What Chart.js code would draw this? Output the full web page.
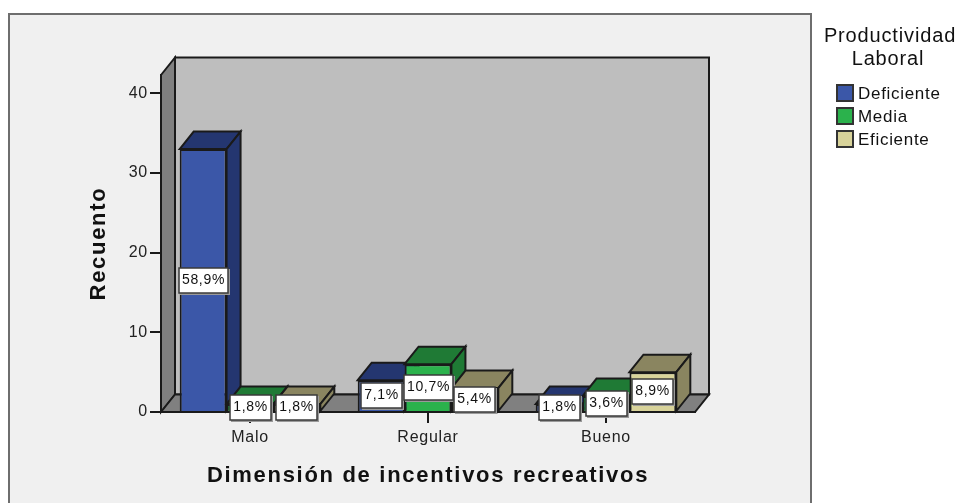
<!DOCTYPE html>
<html lang="es">
<head>
<meta charset="utf-8">
<title>Recuento por dimensión de incentivos recreativos</title>
<script src="https://cdn.jsdelivr.net/npm/chart.js@4/dist/chart.umd.min.js"></script>
<style>
  html, body { margin: 0; padding: 0; background: #ffffff; }
  canvas { display: block; }
</style>
</head>
<body>
<canvas id="chart" width="955" height="503"></canvas>
<script>
// Categories and counts per productivity level
const categories = ['Malo', 'Regular', 'Bueno'];
const deficiente = [33, 4, 1];
const media = [1, 6, 2];
const eficiente = [1, 3, 5];
const porcentajeDeficiente = ['58,9%', '7,1%', '1,8%'];
const porcentajeMedia = ['1,8%', '10,7%', '3,6%'];
const porcentajeEficiente = ['1,8%', '5,4%', '8,9%'];
const yTicks = [0, 10, 20, 30, 40];

const seriesNames = ['Deficiente', 'Media', 'Eficiente'];
const frontColors = ['#3b57a8', '#2bb24c', '#d8d39a'];
const darkColors = ['#243670', '#1f7a35', '#8a8560'];
const percentLabels = [porcentajeDeficiente, porcentajeMedia, porcentajeEficiente];

const FONT = '"Liberation Sans", Arial, sans-serif';
const DEPTH_X = 14, DEPTH_Y = 17.5;
const INK = '#1a1a1a';
const BASE_SPACING = '0.75px', TITLE_SPACING = '1.7px';

function poly(ctx, pts, fill) {
  ctx.beginPath();
  pts.forEach((p, i) => i ? ctx.lineTo(p[0], p[1]) : ctx.moveTo(p[0], p[1]));
  ctx.closePath();
  if (fill) { ctx.fillStyle = fill; ctx.fill(); }
  ctx.strokeStyle = INK;
  ctx.lineWidth = 2;
  ctx.lineJoin = 'miter';
  ctx.stroke();
}

function spacedText(ctx, text, x, y, font, spacing, align) {
  ctx.save();
  ctx.font = font;
  ctx.letterSpacing = spacing + 'px';
  ctx.textAlign = align || 'left';
  ctx.textBaseline = 'middle';
  ctx.fillStyle = '#111111';
  ctx.fillText(text, x, y);
  ctx.restore();
}

// Panel, frame and the three walls of the box behind the bars
const panelPlugin = {
  id: 'panel',
  beforeDraw(chart) {
    const { ctx, chartArea: a } = chart;
    ctx.letterSpacing = BASE_SPACING;
    // Axis titles are set wider than the tick labels
    Object.values(chart.scales).forEach(scale => {
      if (scale.spacedTitle) return;
      const drawTitle = scale.drawTitle;
      scale.spacedTitle = true;
      scale.drawTitle = function () {
        ctx.letterSpacing = TITLE_SPACING;
        drawTitle.call(this);
        ctx.letterSpacing = BASE_SPACING;
      };
    });
    ctx.save();
    ctx.fillStyle = '#f0f0f0';
    ctx.fillRect(9, 14, 802, 495);
    ctx.strokeStyle = '#6e6e6e';
    ctx.lineWidth = 2;
    ctx.strokeRect(9, 14, 802, 495);
    const b = a.bottom, t = a.top, l = a.left, r = a.right;
    poly(ctx, [[l + DEPTH_X, t - DEPTH_Y], [r + DEPTH_X, t - DEPTH_Y], [r + DEPTH_X, b - DEPTH_Y], [l + DEPTH_X, b - DEPTH_Y]], '#bebebe');
    poly(ctx, [[l, t], [l + DEPTH_X, t - DEPTH_Y], [l + DEPTH_X, b - DEPTH_Y], [l, b]], '#808080');
    poly(ctx, [[l, b], [l + DEPTH_X, b - DEPTH_Y], [r + DEPTH_X, b - DEPTH_Y], [r, b]], '#808080');
    ctx.restore();
  },
  // Bars are painted here, left to right, so that every side face falls behind its right-hand neighbour
  beforeDatasetsDraw(chart) {
    const { ctx } = chart;
    const metas = chart.data.datasets.map((_, i) => chart.getDatasetMeta(i));
    ctx.save();
    categories.forEach((_, c) => {
      metas.forEach((meta, d) => {
        const bar = meta.data[c];
        const { x, y, base, width } = bar.getProps(['x', 'y', 'base', 'width'], true);
        const l = x - width / 2, r = x + width / 2;
        poly(ctx, [[l, y], [l + DEPTH_X, y - DEPTH_Y], [r + DEPTH_X, y - DEPTH_Y], [r, y]], darkColors[d]);
        poly(ctx, [[r, y], [r + DEPTH_X, y - DEPTH_Y], [r + DEPTH_X, base - DEPTH_Y], [r, base]], darkColors[d]);
        bar.draw(ctx);
      });
    });
    ctx.restore();
    return false;
  },
  afterDraw(chart) {
    const { ctx } = chart;
    const metas = chart.data.datasets.map((_, i) => chart.getDatasetMeta(i));
    // Percentage boxes centred on the front of each bar
    categories.forEach((_, c) => {
      metas.forEach((meta, d) => {
        const { x, y, base } = meta.data[c].getProps(['x', 'y', 'base'], true);
        const text = percentLabels[d][c];
        const font = '14px ' + FONT;
        ctx.save();
        ctx.font = font;
        ctx.letterSpacing = '0.7px';
        const w = Math.round(ctx.measureText(text).width) + 6, h = 25;
        const bx = Math.round(x - w / 2), by = Math.round((y + base) / 2 - h / 2);
        ctx.fillStyle = '#9a9a9a';
        ctx.fillRect(bx + 1, by + 1, w + 1, h + 1);
        ctx.fillStyle = '#ffffff';
        ctx.strokeStyle = '#3a3a3a';
        ctx.lineWidth = 1.5;
        ctx.fillRect(bx, by, w, h);
        ctx.strokeRect(bx, by, w, h);
        ctx.restore();
        spacedText(ctx, text, bx + w / 2, by + h / 2, font, 0.7, 'center');
      });
    });
    // Legend block to the right of the frame
    spacedText(ctx, 'Productividad', 890, 36, '20px ' + FONT, 0.85, 'center');
    spacedText(ctx, 'Laboral', 888, 59, '20px ' + FONT, 0.85, 'center');
    seriesNames.forEach((name, i) => {
      const y = 93 + i * 23;
      ctx.save();
      ctx.fillStyle = frontColors[i];
      ctx.strokeStyle = '#333333';
      ctx.lineWidth = 2;
      ctx.fillRect(837, y - 8, 16, 16);
      ctx.strokeRect(837, y - 8, 16, 16);
      ctx.restore();
      spacedText(ctx, name, 858, y + 1, '17px ' + FONT, 0.7, 'left');
    });
  }
};

const datasets = seriesNames.map((name, i) => ({
  label: name,
  data: [deficiente, media, eficiente][i],
  backgroundColor: frontColors[i],
  borderColor: INK,
  borderWidth: 2,
  categoryPercentage: 0.79,
  barPercentage: 1
}));

new Chart(document.getElementById('chart'), {
  type: 'bar',
  data: { labels: categories, datasets },
  plugins: [panelPlugin],
  options: {
    responsive: false,
    animation: false,
    layout: { padding: { top: 75, right: 260, bottom: 0, left: 0 } },
    plugins: { legend: { display: false }, tooltip: { enabled: false } },
    scales: {
      x: {
        afterFit(scale) { scale.height = 91; },
        grid: { offset: false, drawOnChartArea: false, drawTicks: true, tickLength: 11, color: INK, lineWidth: 2 },
        border: { color: INK, width: 2 },
        ticks: { color: '#222222', font: { family: FONT, size: 16 }, padding: 5, maxRotation: 0 },
        title: {
          display: true, text: 'Dimensión de incentivos recreativos', color: '#111111',
          font: { family: FONT, size: 22, weight: 'bold' }, padding: { top: 0, bottom: 14 }
        }
      },
      y: {
        min: 0,
        max: 42.3,
        afterFit(scale) { scale.width = 161; },
        afterBuildTicks(scale) { scale.ticks = yTicks.map(value => ({ value })); },
        grid: { drawOnChartArea: false, drawTicks: true, tickLength: 11, color: INK, lineWidth: 2 },
        border: { color: INK, width: 2 },
        ticks: { color: '#222222', font: { family: FONT, size: 16 }, padding: 2 },
        title: {
          display: true, text: 'Recuento', color: '#111111',
          font: { family: FONT, size: 22, weight: 'bold' }, padding: { top: 86, bottom: 0 }
        }
      }
    }
  }
});
</script>
</body>
</html>
